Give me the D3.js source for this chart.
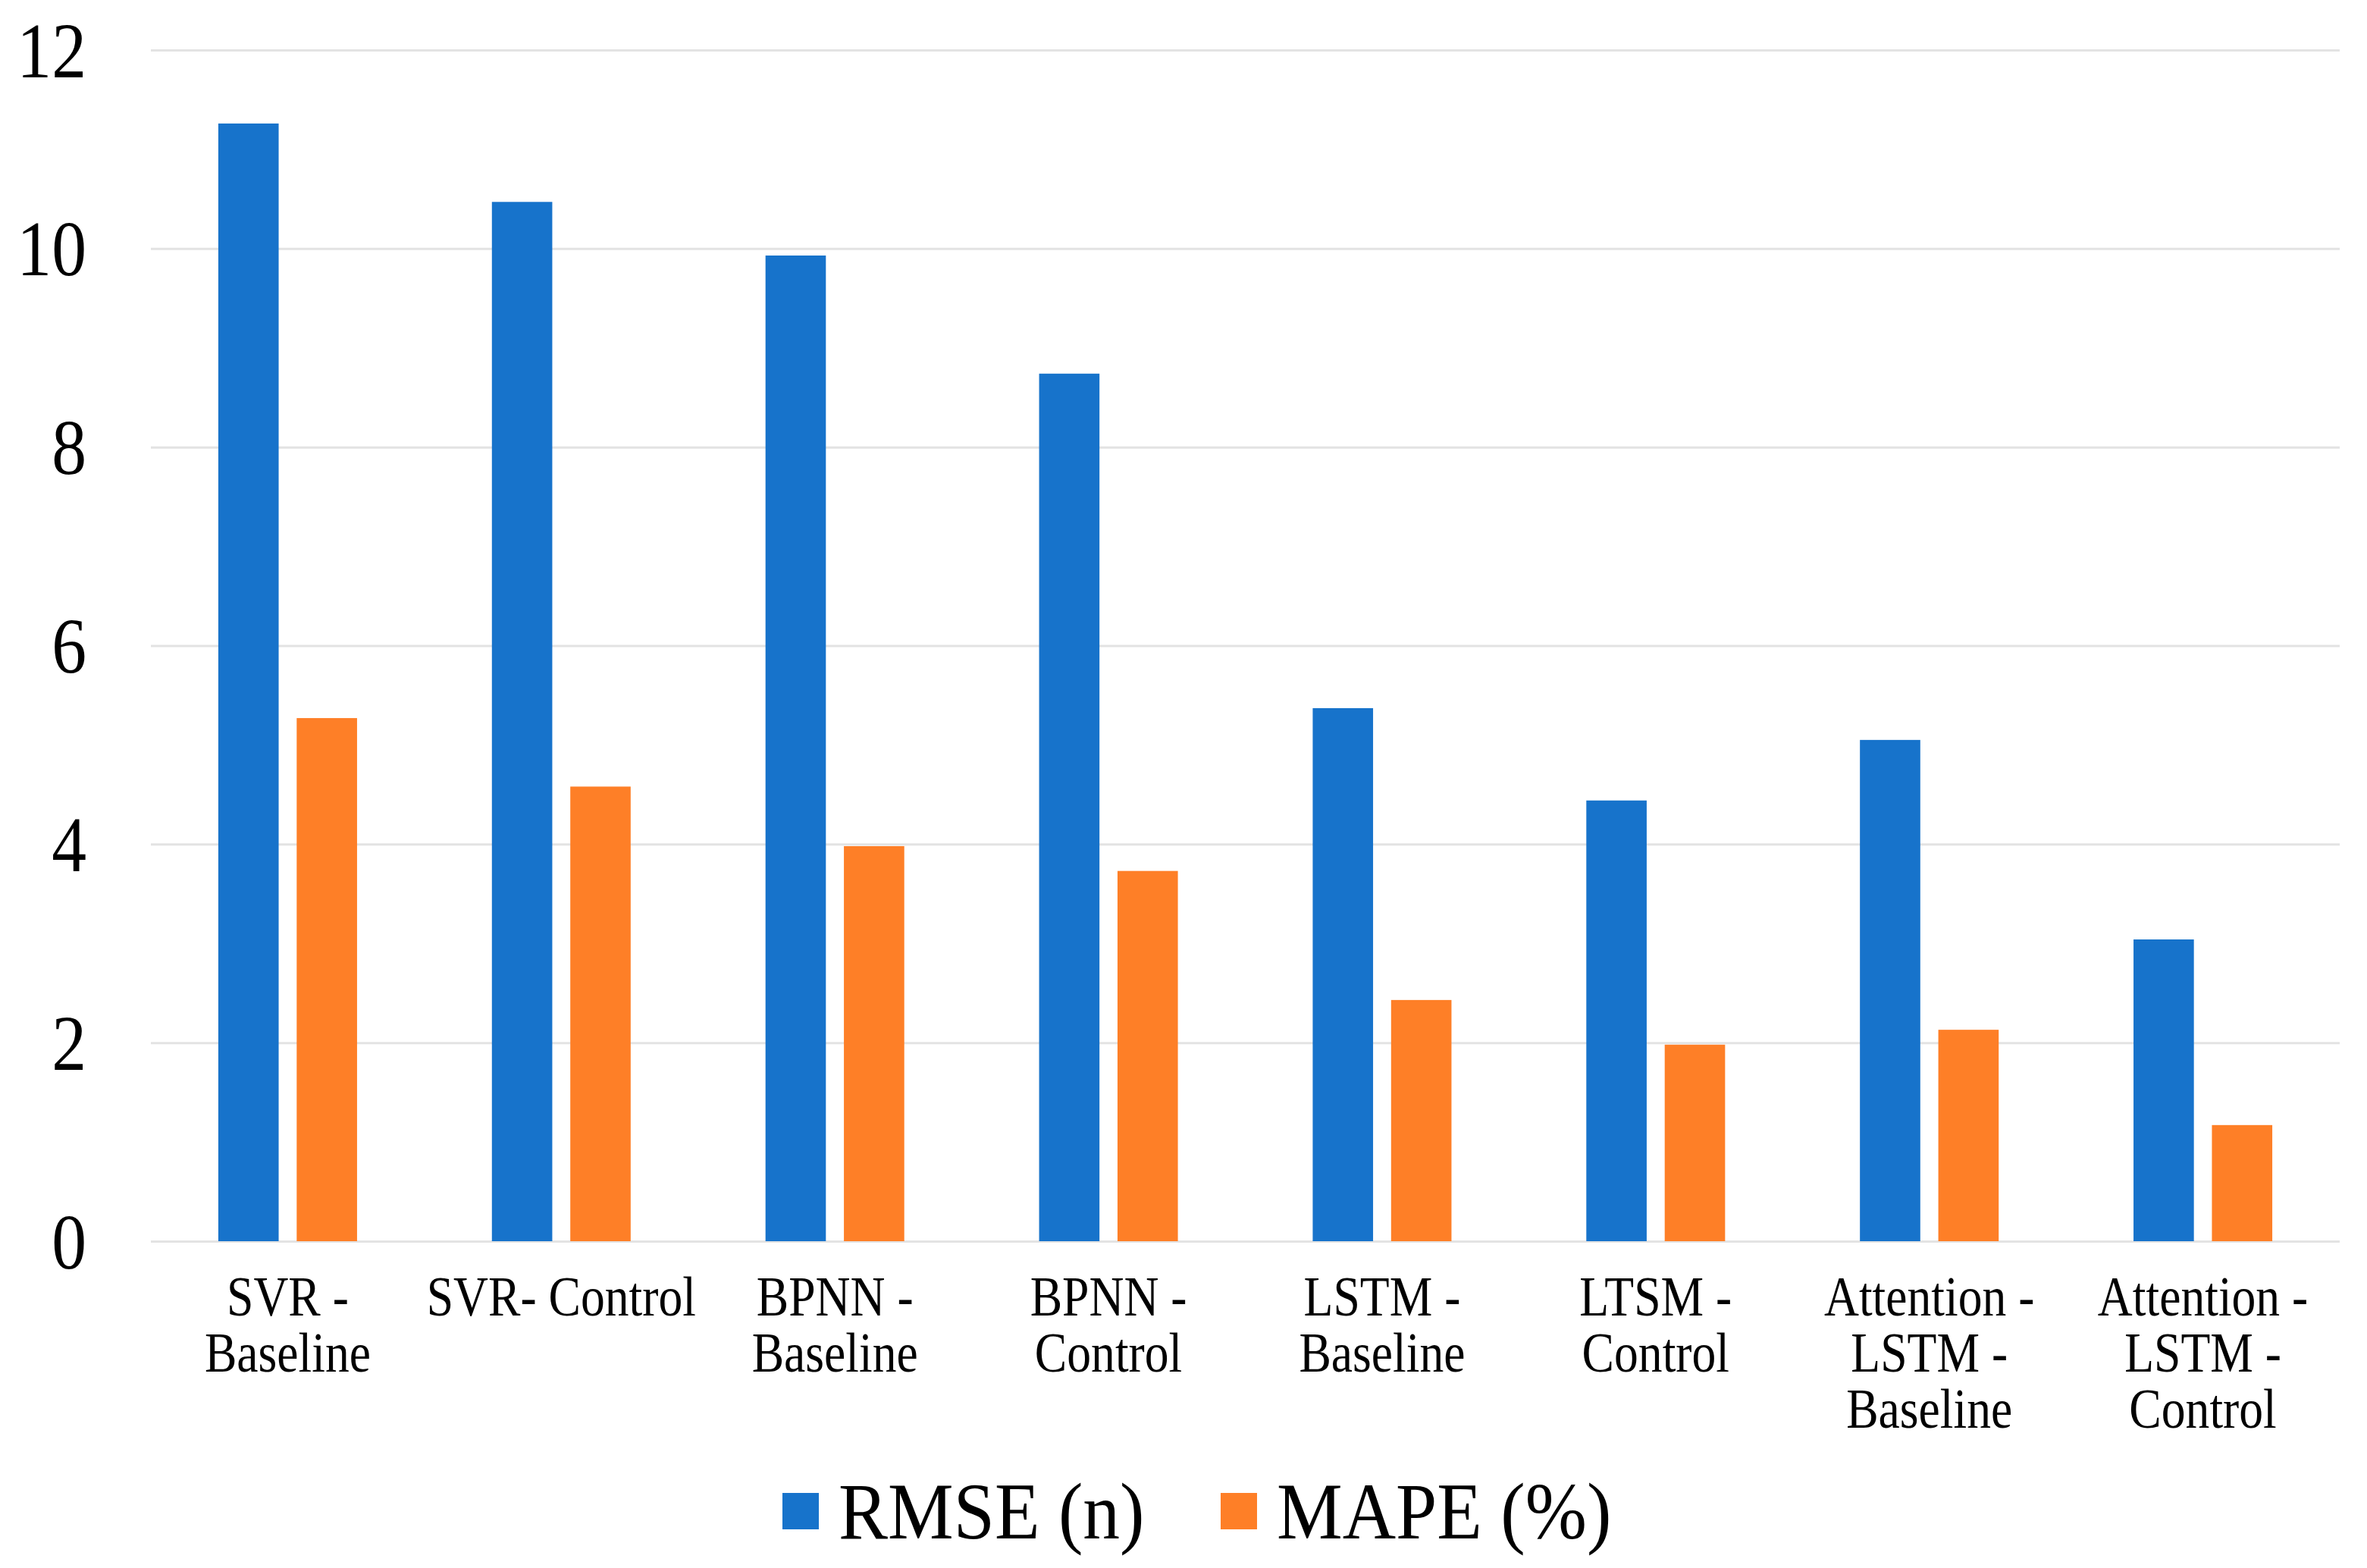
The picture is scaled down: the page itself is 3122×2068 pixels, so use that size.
<!DOCTYPE html>
<html>
<head>
<meta charset="utf-8">
<script src="https://cdn.jsdelivr.net/npm/d3@7"></script>
<style>
  html, body { margin: 0; padding: 0; background: #fff; }
  svg { display: block; }
</style>
</head>
<body>
<svg></svg>
<script>
const width = 3122
const height = 2068

// chart data
const categories = ["SVR - Baseline", "SVR- Control", "BPNN - Baseline", "BPNN - Control",
    "LSTM - Baseline", "LTSM - Control", "Attention - LSTM - Baseline", "Attention - LSTM - Control"]
const seriesNames = ["RMSE (n)", "MAPE (%)"]
const rmse = [11.26, 10.47, 9.93, 8.74, 5.37, 4.44, 5.05, 3.04]
const mape = [5.27, 4.58, 3.98, 3.73, 2.43, 1.98, 2.13, 1.17]
const yTicks = [0, 2, 4, 6, 8, 10, 12]
const colors = ["#1773cb", "#fe7f27"]

const margin = {top: 66, right: 36, bottom: 431, left: 199}
const squeeze = 0.89 // the original text looks horizontally condensed

const rows = categories.map((c, i) => ({name: c, values: [rmse[i], mape[i]]}))

const svg = d3.select("svg")
    .attr("width", width)
    .attr("height", height)
    .attr("viewBox", `0 0 ${width} ${height}`)
    .style("font-family", "'Liberation Serif', 'Times New Roman', serif")

const x0 = d3.scaleBand()
    .domain(categories)
    .range([margin.left, width - margin.right])
    .padding(0)

const x1 = d3.scaleBand()
    .domain(seriesNames)
    .range([0, x0.bandwidth()])
    .paddingInner(0.23)
    .paddingOuter(0.86)

const y = d3.scaleLinear()
    .domain([0, 12])
    .range([height - margin.bottom, margin.top])

// grid + y labels
const yAxis = svg.append("g")
    .attr("transform", `translate(${margin.left},0)`)
    .call(d3.axisLeft(y).tickValues(yTicks).tickFormat(d3.format("d"))
        .tickSize(-(width - margin.left - margin.right)).tickPadding(0))
yAxis.select(".domain").remove()
yAxis.selectAll(".tick line")
    .attr("stroke", "#e3e3e3")
    .attr("stroke-width", 3)
yAxis.selectAll(".tick text")
    .attr("x", 0)
    .attr("dy", "0.34em")
    .attr("transform", `translate(-85,0) scale(${squeeze},1)`)
    .attr("fill", "#000")
    .style("font-size", "103px")
    .style("font-family", "'Liberation Serif', 'Times New Roman', serif")

// bars
const groups = svg.append("g")
    .selectAll("g")
    .data(rows)
    .join("g")
    .attr("transform", d => `translate(${x0(d.name)},0)`)

groups.selectAll("rect")
    .data(d => d.values.map((v, k) => ({key: seriesNames[k], value: v, k})))
    .join("rect")
    .attr("x", d => x1(d.key))
    .attr("width", x1.bandwidth())
    .attr("y", d => y(d.value))
    .attr("height", d => y(0) - y(d.value))
    .attr("fill", d => colors[d.k])

// category labels, wrapped after each " -"
const lineHeight = 74
svg.append("g")
    .selectAll("text")
    .data(categories)
    .join("text")
    .attr("transform", d => `translate(${x0(d) + x0.bandwidth() / 2},1735) scale(0.86,1)`)
    .attr("text-anchor", "middle")
    .style("font-size", "74px")
    .attr("fill", "#000")
    .each(function(d) {
        const lines = d.split(/(?<= -) /)
        d3.select(this).selectAll("tspan")
            .data(lines)
            .join("tspan")
            .attr("x", 0)
            .attr("y", (l, i) => i * lineHeight)
            .text(l => l)
    })

// legend
const legendX = [1032, 1610]
const legend = svg.append("g")
    .selectAll("g")
    .data(seriesNames)
    .join("g")
    .attr("transform", (d, i) => `translate(${legendX[i]},1993)`)

legend.append("rect")
    .attr("x", 0)
    .attr("y", -24)
    .attr("width", 48)
    .attr("height", 48)
    .attr("fill", (d, i) => colors[i])

legend.append("text")
    .attr("transform", `translate(74,36) scale(0.92,1)`)
    .style("font-size", "106px")
    .attr("fill", "#000")
    .text(d => d)
</script>
</body>
</html>
